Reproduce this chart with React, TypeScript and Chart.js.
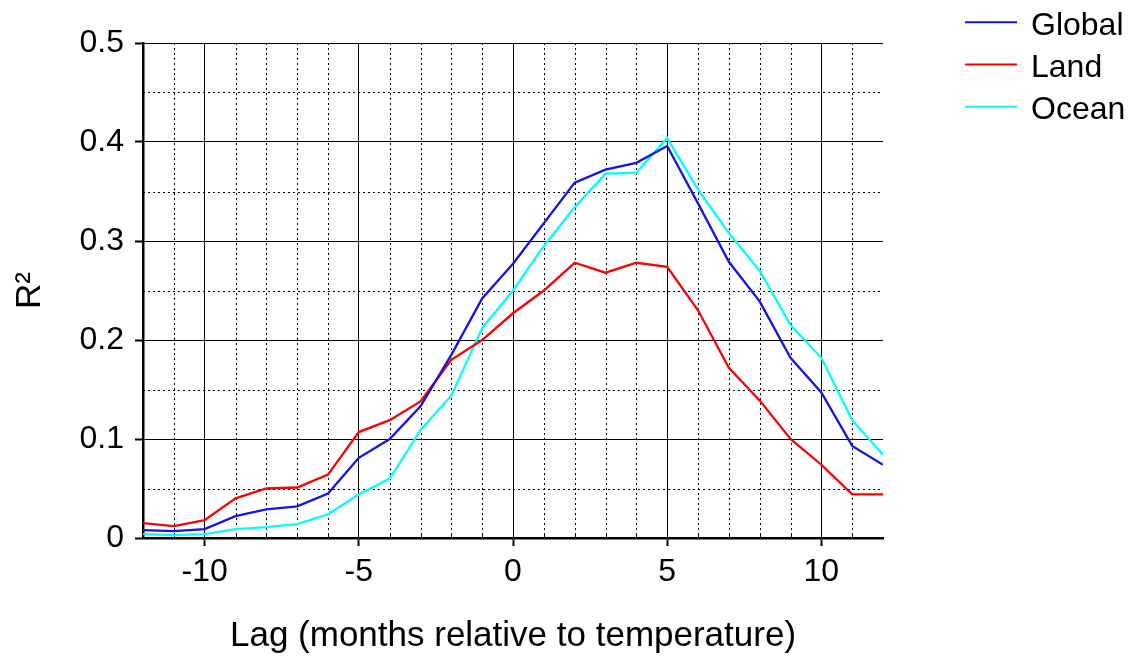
import React, { useEffect, useRef } from "react";
import { Chart, registerables } from "chart.js";

Chart.register(...registerables);

const lags = [-12, -11, -10, -9, -8, -7, -6, -5, -4, -3, -2, -1, 0, 1, 2, 3, 4, 5, 6, 7, 8, 9, 10, 11, 12];
const globalR2 = [0.008, 0.007, 0.009, 0.022, 0.029, 0.032, 0.045, 0.081, 0.100, 0.133, 0.185, 0.242, 0.277, 0.318, 0.359, 0.372, 0.379, 0.396, 0.338, 0.279, 0.239, 0.182, 0.147, 0.093, 0.074];
const landR2 = [0.015, 0.012, 0.018, 0.040, 0.050, 0.051, 0.064, 0.107, 0.119, 0.138, 0.180, 0.200, 0.227, 0.250, 0.278, 0.268, 0.278, 0.274, 0.230, 0.172, 0.139, 0.100, 0.074, 0.044, 0.044];
const oceanR2 = [0.004, 0.003, 0.004, 0.009, 0.011, 0.014, 0.024, 0.044, 0.060, 0.109, 0.144, 0.212, 0.250, 0.295, 0.334, 0.368, 0.369, 0.404, 0.352, 0.308, 0.270, 0.215, 0.182, 0.119, 0.084];

const seriesNames = ["Global", "Land", "Ocean"];
const seriesColors = ["#1414e6", "#ff0000", "#00ffff"];

const xMajorTicks = [-10, -5, 0, 5, 10];
const xMinorTicks = [-11, -9, -8, -7, -6, -4, -3, -2, -1, 1, 2, 3, 4, 6, 7, 8, 9, 11];
const yMajorTicks = [0, 0.1, 0.2, 0.3, 0.4, 0.5];
const yMinorTicks = [0.05, 0.15, 0.25, 0.35, 0.45];

const xTitle = "Lag (months relative to temperature)";
const yTitle = "R\u00B2";

const FONT = "Arial, 'Liberation Sans', sans-serif";

const minorGridPlugin = {
  id: "minorGrid",
  beforeDatasetsDraw(chart: any) {
    const { ctx, chartArea, scales } = chart;
    const xs = scales.x;
    const ys = scales.y;
    ctx.save();
    ctx.strokeStyle = "#000";
    ctx.lineWidth = 1;
    ctx.setLineDash([2, 3]);
    xMinorTicks.forEach((v) => {
      const px = Math.round(xs.getPixelForValue(v)) + 0.5;
      ctx.beginPath();
      ctx.moveTo(px, chartArea.top);
      ctx.lineTo(px, chartArea.bottom);
      ctx.stroke();
    });
    yMinorTicks.forEach((v) => {
      const py = Math.round(ys.getPixelForValue(v)) + 0.5;
      ctx.beginPath();
      ctx.moveTo(chartArea.left, py);
      ctx.lineTo(chartArea.right, py);
      ctx.stroke();
    });
    ctx.setLineDash([]);
    xMinorTicks.forEach((v) => {
      const px = Math.round(xs.getPixelForValue(v)) + 0.5;
      ctx.beginPath();
      ctx.moveTo(px, chartArea.bottom);
      ctx.lineTo(px, chartArea.bottom - 5);
      ctx.stroke();
    });
    ctx.restore();
  },
};

const legendPlugin = {
  id: "customLegend",
  afterDraw(chart: any) {
    const { ctx } = chart;
    ctx.save();
    chart.data.datasets.forEach((ds: any, i: number) => {
      const y = 22.3 + i * 42.2;
      ctx.strokeStyle = ds.borderColor;
      ctx.lineWidth = 2;
      ctx.beginPath();
      ctx.moveTo(965, y);
      ctx.lineTo(1017, y);
      ctx.stroke();
      ctx.fillStyle = "#000";
      ctx.font = `32px ${FONT}`;
      ctx.textBaseline = "middle";
      ctx.textAlign = "left";
      ctx.fillText(ds.label, 1031, y + 3.5);
    });
    ctx.restore();
  },
};

export default function App() {
  const canvasRef = useRef<HTMLCanvasElement>(null);

  useEffect(() => {
    document.body.style.margin = "0";
    const canvas = canvasRef.current!;
    const seriesData = [globalR2, landR2, oceanR2];
    const chart = new Chart(canvas, {
      type: "line",
      data: {
        datasets: seriesData.map((arr, i) => ({
          label: seriesNames[i],
          data: lags.map((x, j) => ({ x, y: arr[j] })),
          borderColor: seriesColors[i],
          backgroundColor: seriesColors[i],
          borderWidth: 2.3,
          pointRadius: 0,
          tension: 0,
          fill: false,
        })),
      },
      options: {
        responsive: false,
        animation: false,
        layout: { padding: { left: 0, top: 43, right: 261, bottom: 0 } },
        plugins: {
          legend: { display: false },
          tooltip: { enabled: false },
        },
        scales: {
          x: {
            type: "linear",
            min: -12,
            max: 12,
            afterBuildTicks: (scale: any) => {
              scale.ticks = xMajorTicks.map((v) => ({ value: v }));
            },
            afterFit: (scale: any) => {
              scale.height = 119;
            },
            grid: {
              drawOnChartArea: true,
              color: "#000",
              lineWidth: 1,
              drawTicks: true,
              tickLength: 8,
              tickWidth: 2,
              tickColor: "#000",
            },
            border: { display: true, color: "#000", width: 2.5 },
            ticks: {
              color: "#000",
              font: { family: FONT, size: 32 },
              padding: 7,
              maxRotation: 0,
              autoSkip: false,
              callback: (v: any) => String(v),
            },
            title: {
              display: true,
              text: xTitle,
              color: "#000",
              font: { family: FONT, size: 35 },
              padding: { top: 0, bottom: 0 },
            },
          },
          y: {
            type: "linear",
            min: 0,
            max: 0.5,
            afterBuildTicks: (scale: any) => {
              scale.ticks = yMajorTicks.map((v) => ({ value: v }));
            },
            afterFit: (scale: any) => {
              scale.width = 143;
            },
            grid: {
              drawOnChartArea: true,
              color: "#000",
              lineWidth: 1,
              drawTicks: true,
              tickLength: 8,
              tickWidth: 2,
              tickColor: "#000",
            },
            border: { display: true, color: "#000", width: 2.5 },
            ticks: {
              color: "#000",
              font: { family: FONT, size: 32 },
              padding: 11,
              autoSkip: false,
              callback: (v: any) => (v === 0 ? "0" : Number(v).toFixed(1)),
            },
            title: {
              display: true,
              text: yTitle,
              color: "#000",
              font: { family: FONT, size: 35 },
              padding: { top: 9, bottom: 0 },
            },
          },
        },
      },
      plugins: [minorGridPlugin, legendPlugin],
    });
    return () => chart.destroy();
  }, []);

  return (
    <div style={{ width: 1144, height: 657 }}>
      <canvas ref={canvasRef} width={1144} height={657} style={{ width: 1144, height: 657, display: "block" }} />
    </div>
  );
}
